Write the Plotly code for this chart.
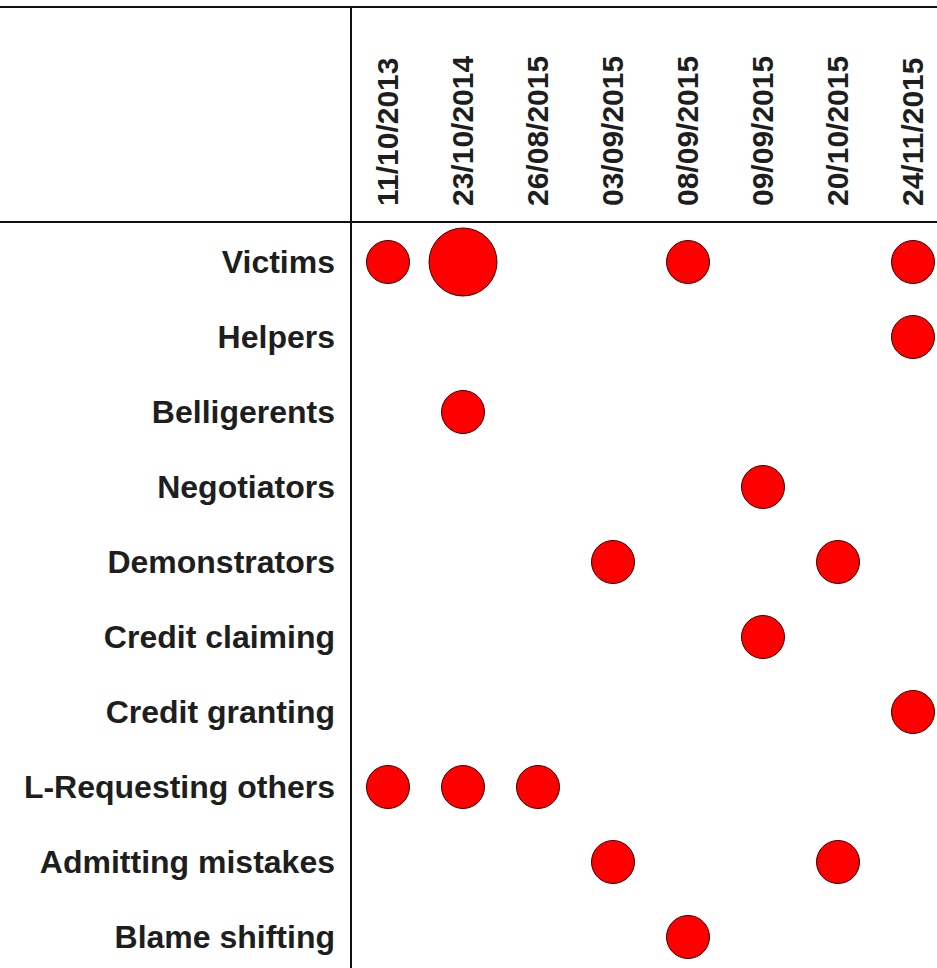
import plotly.graph_objects as go

dates = ["11/10/2013", "23/10/2014", "26/08/2015", "03/09/2015",
         "08/09/2015", "09/09/2015", "20/10/2015", "24/11/2015"]
categories = ["Victims", "Helpers", "Belligerents", "Negotiators", "Demonstrators",
              "Credit claiming", "Credit granting", "L-Requesting others",
              "Admitting mistakes", "Blame shifting"]

point_category = ["Victims", "Victims", "Victims", "Victims",
                  "Helpers", "Belligerents", "Negotiators",
                  "Demonstrators", "Demonstrators", "Credit claiming",
                  "Credit granting",
                  "L-Requesting others", "L-Requesting others", "L-Requesting others",
                  "Admitting mistakes", "Admitting mistakes", "Blame shifting"]
point_date = ["11/10/2013", "23/10/2014", "08/09/2015", "24/11/2015",
              "24/11/2015", "23/10/2014", "09/09/2015",
              "03/09/2015", "20/10/2015", "09/09/2015",
              "24/11/2015",
              "11/10/2013", "23/10/2014", "26/08/2015",
              "03/09/2015", "20/10/2015", "08/09/2015"]
point_count = [1, 2, 1, 1,
               1, 1, 1,
               1, 1, 1,
               1,
               1, 1, 1,
               1, 1, 1]

W, H = 937, 968
L, T = 352, 222

sizes = [43 + (c - 1) * 25 for c in point_count]

fig = go.Figure(go.Scatter(
    x=point_date, y=point_category, mode="markers",
    marker=dict(size=sizes, color="#ff0000",
                line=dict(color="#3a0000", width=1), opacity=1),
    hoverinfo="x+y", showlegend=False,
))

font_lbl = dict(family="Liberation Sans, Arial, sans-serif", size=32, color="#1e1e1e", weight="bold")
font_hdr = dict(family="Liberation Sans, Arial, sans-serif", size=30, color="#1e1e1e", weight="bold")

fig.update_xaxes(type="category", categoryorder="array", categoryarray=dates,
                 side="top", tickangle=-90, range=[-0.48, 7.32],
                 showgrid=False, zeroline=False, showline=False,
                 ticks="", ticklabelstandoff=15, tickfont=font_hdr)
fig.update_yaxes(type="category", categoryorder="array", categoryarray=categories,
                 range=[(H - 262) / 75, -(262 - T) / 75],
                 showgrid=False, zeroline=False, showline=False,
                 ticks="", ticklabelstandoff=16, tickfont=font_lbl)

def px_x(p):
    return (p - L) / (W - L)

def px_y(p):
    return (H - p) / (H - T)

line = dict(color="#111111", width=2)
shapes = [
    dict(type="line", xref="paper", yref="paper", x0=px_x(0), x1=px_x(W), y0=px_y(7), y1=px_y(7), line=line),
    dict(type="line", xref="paper", yref="paper", x0=px_x(0), x1=px_x(W), y0=px_y(222), y1=px_y(222), line=line),
    dict(type="line", xref="paper", yref="paper", x0=px_x(351), x1=px_x(351), y0=px_y(7), y1=px_y(H), line=line),
]

fig.update_layout(width=W, height=H, margin=dict(l=L, r=0, t=T, b=0, autoexpand=False),
                  plot_bgcolor="white", paper_bgcolor="white", shapes=shapes)

fig.write_html("out.html", config={"displayModeBar": False},
               post_script="document.body.style.margin='0';document.body.style.overflow='hidden';")
